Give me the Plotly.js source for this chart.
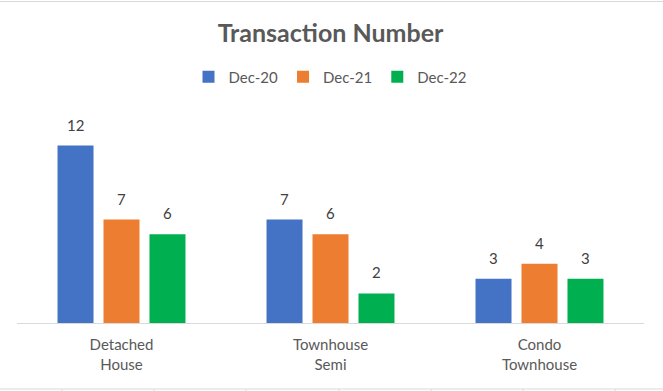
<!DOCTYPE html>
<html>
<head>
<meta charset="utf-8">
<script src="https://cdn.plot.ly/plotly-3.0.1.min.js"></script>
<style>html,body{margin:0;padding:0;background:#fff;}#chart{width:663px;height:391px;}</style>
</head>
<body>
<div id="chart"></div>
<script>
const categories = ['Detached House', 'Townhouse Semi', 'Condo Townhouse'];
const tickLabels = ['Detached<br>House', 'Townhouse<br>Semi', 'Condo<br>Townhouse'];
const seriesNames = ['Dec-20', 'Dec-21', 'Dec-22'];
const dec20 = [12, 7, 3];
const dec21 = [7, 6, 4];
const dec22 = [6, 2, 3];
const seriesValues = [dec20, dec21, dec22];
const colors = ['#4472C4', '#ED7D31', '#00B050'];

const FONT = 'Lato, "Open Sans", sans-serif';

const traces = seriesValues.map((vals, i) => ({
  type: 'bar',
  name: seriesNames[i],
  x: categories,
  y: vals,
  marker: {color: colors[i]},
  hoverinfo: 'skip'
}));

// data labels as annotations above bars
const annotations = [];
seriesValues.forEach((vals, i) => {
  vals.forEach((v, j) => {
    annotations.push({
      xref: 'x', yref: 'y', x: categories[j], y: v,
      xshift: (i - 1) * 46, yshift: 21, yanchor: 'middle',
      text: String(v), showarrow: false,
      font: {family: FONT, size: 15, color: '#404040'}
    });
  });
});

// plot area in px: x 17..644, y 116..323
const px = p => (p - 17) / 627;
const py = p => (323 - p) / 207;
const shapes = [
  {type: 'line', xref: 'paper', yref: 'paper', x0: px(0), x1: px(663), y0: py(1.5), y1: py(1.5), line: {color: '#D9D9D9', width: 1}},
  {type: 'line', xref: 'paper', yref: 'paper', x0: px(0), x1: px(663), y0: py(389), y1: py(389), line: {color: '#D9D9D9', width: 1}}
];
[62, 154, 246, 339, 431, 523, 615].forEach(t => {
  shapes.push({type: 'line', xref: 'paper', yref: 'paper', x0: px(t), x1: px(t), y0: py(389), y1: py(392), line: {color: '#D9D9D9', width: 1}});
});

const layout = {
  width: 663, height: 391,
  margin: {l: 17, r: 19, t: 116, b: 68},
  paper_bgcolor: '#fff', plot_bgcolor: '#fff',
  font: {family: FONT, color: '#595959'},
  title: {
    text: '<b>Transaction Number</b>',
    font: {family: FONT, size: 25, color: '#595959'},
    x: 0.5, xref: 'paper', xanchor: 'center',
    y: 1 - 33 / 391, yref: 'container', yanchor: 'middle'
  },
  showlegend: true,
  legend: {
    orientation: 'h', x: 0.5, xanchor: 'center', xref: 'paper',
    y: py(77), yanchor: 'middle',
    font: {family: FONT, size: 15, color: '#595959'},
    itemwidth: 30, traceorder: 'normal'
  },
  barmode: 'group',
  bargap: 0.34,
  bargroupgap: 0.217,
  xaxis: {
    type: 'category',
    tickvals: categories, ticktext: tickLabels,
    showline: true, linecolor: '#D9D9D9', linewidth: 1,
    ticks: '', showgrid: false, zeroline: false,
    ticklabelstandoff: 8,
    tickfont: {family: FONT, size: 15, color: '#595959'},
    fixedrange: true
  },
  yaxis: {
    range: [0, 14], visible: false, showgrid: false, zeroline: false, fixedrange: true
  },
  annotations: annotations,
  shapes: shapes
};

Plotly.newPlot('chart', traces, layout, {displayModeBar: false, staticPlot: true});
</script>
</body>
</html>
